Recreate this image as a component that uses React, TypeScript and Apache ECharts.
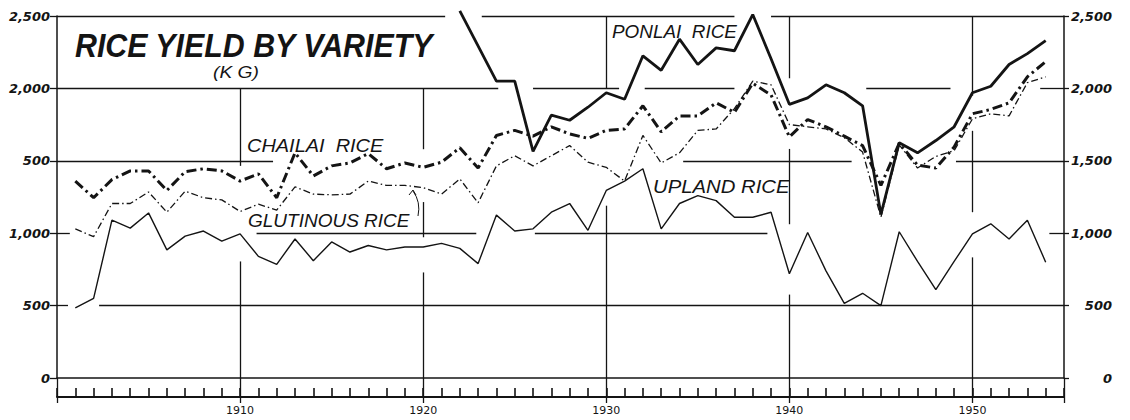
import React, { useEffect, useRef } from "react";
import * as echarts from "echarts";

const INK = "#141414";

const years = [
  1901, 1902, 1903, 1904, 1905, 1906, 1907, 1908, 1909, 1910,
  1911, 1912, 1913, 1914, 1915, 1916, 1917, 1918, 1919, 1920,
  1921, 1922, 1923, 1924, 1925, 1926, 1927, 1928, 1929, 1930,
  1931, 1932, 1933, 1934, 1935, 1936, 1937, 1938, 1939, 1940,
  1941, 1942, 1943, 1944, 1945, 1946, 1947, 1948, 1949, 1950,
  1951, 1952, 1953, 1954,
];

const ponlai = [
  null, null, null, null, null, null, null, null, null, null,
  null, null, null, null, null, null, null, null, null, null,
  null, 2535, null, 2050, 2050, 1565, 1815, 1780, 1870, 1970,
  1925, 2225, 2125, 2340, 2165, 2280, 2260, 2510, 2205, 1890,
  1935, 2025, 1970, 1880, 1130, 1625, 1555, 1640, 1735, 1970,
  2015, 2165, 2240, 2330,
];

const chailai = [
  1360, 1245, 1370, 1430, 1430, 1295, 1425, 1445, 1430, 1360,
  1410, 1245, 1555, 1395, 1465, 1485, 1550, 1445, 1485, 1455,
  1490, 1590, 1450, 1675, 1710, 1670, 1735, 1685, 1655, 1710,
  1720, 1880, 1700, 1810, 1810, 1900, 1835, 2035, 1955, 1665,
  1785, 1735, 1670, 1605, 1330, 1620, 1470, 1450, 1595, 1825,
  1855, 1900, 2080, 2185,
];

const glutinous = [
  1030, 976, 1205, 1205, 1285, 1145, 1290, 1245, 1230, 1150,
  1200, 1160, 1320, 1270, 1265, 1270, 1360, 1330, 1330, 1315,
  1270, 1375, 1210, 1465, 1535, 1465, 1535, 1605, 1490, 1455,
  1360, 1675, 1485, 1555, 1710, 1720, 1860, 2050, 2025, 1750,
  1735, 1720, 1660, 1560, 1110, 1610, 1450, 1530, 1570, 1790,
  1825, 1810, 2040, 2080,
];

const upland = [
  485, 550, 1090, 1035, 1140, 885, 980, 1015, 945, 995,
  840, 785, 960, 810, 940, 870, 915, 885, 905, 905,
  930, 895, 790, 1125, 1015, 1030, 1145, 1205, 1020, 1295,
  1360, 1445, 1030, 1205, 1260, 1225, 1110, 1110, 1145, 720,
  1005, 740, 515, 585, 500, 1010, 805, 610, 805, 995,
  1065, 960, 1090, 800,
];

const leftTickLabels = ["0", "500", "1,000", "500", "2,000", "2,500"];
const rightTickLabels = ["0", "500", "1,000", "1,500", "2,000", "2,500"];
const decadeLabels = ["1910", "1920", "1930", "1940", "1950"];

// drafted grid rulings (value, fromYear, toYear) and (year, fromValue, toValue)
const hRulings: [number, number, number][] = [
  [2500, 1900, 1921.2], [2500, 1923.2, 1937.0], [2500, 1939.0, 1955],
  [2000, 1900, 1924.1], [2000, 1926.0, 1930.7], [2000, 1932.1, 1937.0],
  [2000, 1944.2, 1948.8], [2000, 1953.7, 1955],
  [1500, 1900, 1911.8], [1500, 1934.2, 1943.4], [1500, 1949.1, 1955],
  [1000, 1900, 1900.7], [1000, 1910.9, 1922.9], [1000, 1926.1, 1938.8], [1000, 1954.2, 1955],
  [500, 1900, 1900.6], [500, 1902.3, 1955],
];
const vRulings: [number, number, number][] = [
  [1910, 2000, 1465], [1910, 805, 0],
  [1920, 2000, 1580], [1920, 1215, 972], [1920, 729, 0],
  [1930, 2500, 2000], [1930, 1190, 0],
  [1940, 2500, 2070], [1940, 1582, 1062], [1940, 576, 0],
  [1950, 2500, 1950], [1950, 1707, 1145], [1950, 833, 0],
];

const pairs = (vals: (number | null)[]) => years.map((y, i) => [y, vals[i]]);

export default function App() {
  const ref = useRef<HTMLDivElement>(null);

  useEffect(() => {
    if (!ref.current) return;
    const chart = echarts.init(ref.current, null, { renderer: "svg" });

    const rulingData: any[] = [
      ...hRulings.map(([v, a, b]) => [{ coord: [a, v] }, { coord: [b, v] }]),
      ...vRulings.map(([yr, a, b]) => [{ coord: [yr, a] }, { coord: [yr, b] }]),
    ];

    const axisFont = {
      fontFamily: "DejaVu Sans",
      fontWeight: "bold" as const,
      fontStyle: "italic" as const,
      fontSize: 13,
      color: INK,
    };

    const label = (text: string, x: number, y: number, size: number, scaleX: number, weight = "normal") => ({
      type: "text",
      x,
      y,
      scaleX,
      style: {
        text,
        fill: INK,
        fontFamily: "Liberation Sans",
        fontStyle: "italic",
        fontWeight: weight,
        fontSize: size,
        verticalAlign: "middle",
        align: "left",
      },
      z: 10,
    });

    const option: any = {
      animation: false,
      backgroundColor: "#ffffff",
      grid: { left: 57, right: 66, top: 16, bottom: 42 },
      xAxis: [
        {
          type: "value",
          min: 1900,
          max: 1955,
          interval: 10,
          position: "bottom",
          axisLine: { show: true, onZero: false, lineStyle: { color: INK, width: 1.5 } },
          axisTick: { show: true, inside: false, length: 25, lineStyle: { color: INK, width: 1.3 } },
          axisLabel: {
            show: true,
            margin: 27,
            fontFamily: "DejaVu Sans",
            fontSize: 11,
            color: INK,
            formatter: (v: number) => (decadeLabels.includes(String(v)) ? String(v) : ""),
          },
          splitLine: { show: false },
        },
        {
          type: "value",
          min: 1900,
          max: 1955,
          interval: 1,
          position: "bottom",
          offset: 19,
          axisLine: { show: true, onZero: false, lineStyle: { color: INK, width: 2 } },
          axisTick: { show: true, inside: true, length: 9, lineStyle: { color: INK, width: 1.6 } },
          axisLabel: { show: false },
          splitLine: { show: false },
        },
      ],
      yAxis: [
        {
          type: "value",
          min: 0,
          max: 2500,
          interval: 500,
          position: "left",
          axisLine: { show: true, lineStyle: { color: INK, width: 1.5 } },
          axisTick: { show: true, length: 7, lineStyle: { color: INK, width: 1.3 } },
          axisLabel: { ...axisFont, margin: 7, formatter: (v: number) => leftTickLabels[Math.round(v / 500)] },
          splitLine: { show: false },
        },
        {
          type: "value",
          min: 0,
          max: 2500,
          interval: 500,
          position: "right",
          axisLine: { show: true, lineStyle: { color: INK, width: 1.5 } },
          axisTick: { show: true, length: 5, lineStyle: { color: INK, width: 1.3 } },
          axisLabel: {
            ...axisFont,
            align: "right",
            margin: 48,
            formatter: (v: number) => rightTickLabels[Math.round(v / 500)],
          },
          splitLine: { show: false },
        },
      ],
      series: [
        {
          name: "UPLAND RICE",
          type: "line",
          data: pairs(upland),
          symbol: "none",
          z: 3,
          lineStyle: { color: INK, width: 1.4 },
          markLine: {
            silent: true,
            symbol: ["none", "none"],
            label: { show: false },
            lineStyle: { color: INK, width: 1.3, type: "solid" },
            emphasis: { disabled: true },
            data: rulingData,
          },
        },
        {
          name: "GLUTINOUS RICE",
          type: "line",
          data: pairs(glutinous),
          symbol: "none",
          z: 3,
          lineStyle: { color: INK, width: 1.3, type: [7, 3, 1.5, 3] },
        },
        {
          name: "CHAILAI RICE",
          type: "line",
          data: pairs(chailai),
          symbol: "none",
          z: 4,
          lineStyle: { color: INK, width: 3, type: [10, 4, 2.5, 4] },
        },
        {
          name: "PONLAI RICE",
          type: "line",
          data: pairs(ponlai),
          symbol: "none",
          connectNulls: true,
          clip: false,
          z: 5,
          lineStyle: { color: INK, width: 2.8 },
        },
      ],
      graphic: [
        label("RICE YIELD BY VARIETY", 75, 46, 33, 0.92, "bold"),
        label("(K G)", 213, 73, 16, 1.2),
        label("CHAILAI  RICE", 247, 145, 19, 1.05),
        label("GLUTINOUS RICE", 248, 220, 19, 1.0),
        label("PONLAI  RICE", 612, 32, 18, 1.05),
        label("UPLAND RICE", 653, 186, 19, 1.07),
        {
          type: "bezierCurve",
          shape: { x1: 418, y1: 216, x2: 413, y2: 191, cpx1: 421, cpy1: 202 },
          style: { stroke: INK, lineWidth: 1, fill: null },
          z: 10,
        },
        {
          type: "polyline",
          shape: { points: [[409, 195], [413, 190], [416, 195]] },
          style: { stroke: INK, lineWidth: 1, fill: null },
          z: 10,
        },
      ],
    };

    chart.setOption(option);
    return () => chart.dispose();
  }, []);

  return (
    <div
      ref={ref}
      style={{ position: "fixed", left: 0, top: 0, width: 1130, height: 420, background: "#fff" }}
    />
  );
}
